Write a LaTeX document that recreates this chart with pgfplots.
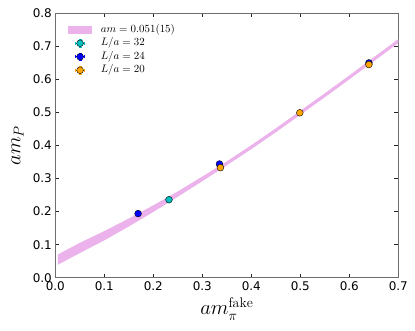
\documentclass[border=0pt]{standalone}
\usepackage{fontspec}
\newfontfamily\dejavu{DejaVu Sans}
\usepackage{pgfplots}
\pgfplotsset{compat=1.18}
\definecolor{band}{HTML}{EBB2EB}
\definecolor{cyanc}{HTML}{00BFBF}
\definecolor{bluec}{HTML}{0000FF}
\definecolor{orangec}{HTML}{FFA500}
\definecolor{spine}{HTML}{6E6E6E}
\pgfplotsset{
  errleg/.style={legend image code/.code={
    \path[draw=none, fill=none] (0bp,-4bp) rectangle (32.7bp,4bp);
    \draw[#1, line width=0.6bp] (7.3bp,0)--(16.7bp,0) (12bp,-3.7bp)--(12bp,3.7bp)
      (7.3bp,-1.5bp)--(7.3bp,1.5bp) (16.7bp,-1.5bp)--(16.7bp,1.5bp)
      (10.5bp,3.7bp)--(13.5bp,3.7bp) (10.5bp,-3.7bp)--(13.5bp,-3.7bp);
    \draw[black, fill=#1, line width=0.4bp] (12bp,0) circle (3.4bp);
  }},
  pt/.style={only marks, mark=*, mark size=3.4bp,
    mark options={fill=#1, draw=black, line width=0.4bp}, errleg=#1},
}
\begin{document}
\begin{tikzpicture}
\begin{axis}[
  scale only axis, width=343bp, height=264.4bp,
  xmin=0, xmax=0.7, ymin=0, ymax=0.8,
  xtick={0,0.1,0.2,0.3,0.4,0.5,0.6,0.7},
  ytick={0,0.1,0.2,0.3,0.4,0.5,0.6,0.7,0.8},
  minor tick num=0,
  tick align=inside, major tick length=4bp,
  axis line style={draw=spine, line width=1.4bp},
  tick style={draw=black!85, line width=0.7bp},
  tick label style={font=\dejavu\fontsize{12}{14}\selectfont},
  /pgf/number format/assume math mode=true,
  /pgf/number format/.cd, fixed, fixed zerofill, precision=1, /pgfplots/.cd,
  xlabel={$am_\pi^{\mathrm{fake}}$}, ylabel={$am_P$},
  label style={font=\fontsize{20}{24}\selectfont},
  xlabel style={at={(axis description cs:0.5,-0.141)}, anchor=base},
  ylabel style={at={(axis description cs:-0.1015,0.5)}, anchor=base},
  legend cell align=left,
  legend style={draw=none, fill=none, font=\fontsize{10.5}{12}\selectfont,
    at={(axis description cs:0.028,0.963)}, anchor=north west,
    nodes={inner sep=0pt, text height=7bp, text depth=2bp}, row sep=4.5bp},
]
\addplot[fill=band, draw=none,
  legend image code/.code={
    \path[draw=none, fill=none] (0bp,-4bp) rectangle (32.7bp,4bp);
    \fill[band] (0bp,-4bp) rectangle (24bp,4bp);}]
  coordinates {
    (0.005,0.070) (0.05,0.1055) (0.1,0.141) (0.15,0.179) (0.2,0.219)
    (0.25,0.261) (0.3,0.306) (0.35,0.352) (0.4,0.401) (0.45,0.452)
    (0.5,0.505) (0.55,0.558) (0.6,0.612) (0.65,0.667) (0.7,0.722)
    (0.7,0.710) (0.65,0.655) (0.6,0.600) (0.55,0.546) (0.5,0.493)
    (0.45,0.440) (0.4,0.389) (0.35,0.340) (0.3,0.292) (0.25,0.245)
    (0.2,0.199) (0.15,0.155) (0.1,0.113) (0.05,0.0745) (0.005,0.039)
  } -- cycle;
\addlegendentry{$am=0.051(15)$}
\addplot[pt=cyanc] coordinates {(0.232,0.236)};
\addlegendentry{$L/a=32$}
\addplot[pt=bluec] coordinates {(0.169,0.194) (0.335,0.344) (0.640,0.650)};
\addlegendentry{$L/a=24$}
\addplot[pt=orangec] coordinates {(0.337,0.333) (0.499,0.499) (0.640,0.645)};
\addlegendentry{$L/a=20$}
\end{axis}
\pgfresetboundingbox
\path (-55.3bp,-53.3bp) rectangle (359.7bp,277.7bp);
\end{tikzpicture}
\end{document}
